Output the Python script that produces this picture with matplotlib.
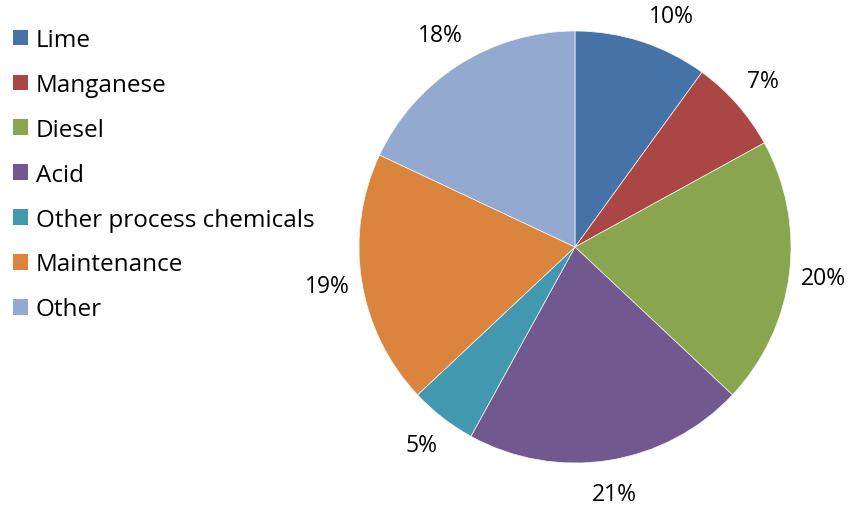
import numpy as np
import matplotlib.pyplot as plt
from matplotlib.patches import Patch

categories = ["Lime", "Manganese", "Diesel", "Acid", "Other process chemicals",
              "Maintenance", "Other"]
shares = [10, 7, 20, 21, 5, 19, 18]
colors = ["#4572A7", "#AA4643", "#89A54E", "#71588F", "#4198AF", "#DB843D", "#93A9CF"]

plt.rcParams["font.family"] = ["Open Sans", "DejaVu Sans"]

W, H = 850, 506
fig = plt.figure(figsize=(W / 100, H / 100), dpi=100)

# pie centre (575, 248) px, radius 216 px
cx, cy, r = 575, 248, 216
ax = fig.add_axes([(cx - r) / W, (H - cy - r) / H, 2 * r / W, 2 * r / H])
dist = 1.16
wedges, texts, autotexts = ax.pie(
    shares, colors=colors, startangle=90, counterclock=False,
    autopct="%d%%", pctdistance=dist,
    wedgeprops=dict(linewidth=0.5, edgecolor="#f4f4f4"),
    textprops=dict(fontsize=16.5, color="black"),
)
# keep labels inside the figure: clamp height, slide along the same radius
for t in autotexts:
    x, y = t.get_position()
    if y > 1.07:
        y = 1.07
        x = np.sign(x) * np.sqrt(dist ** 2 - y ** 2)
        t.set_position((x, y))
ax.set_xlim(-1, 1)
ax.set_ylim(-1, 1)
ax.set_aspect("equal")

handles = [Patch(facecolor=c) for c in colors]
fig.legend(handles, categories, loc="upper left", bbox_to_anchor=(0.004, 0.962),
           frameon=False, fontsize=17.5, handlelength=0.6, handleheight=0.6,
           handletextpad=0.33, labelspacing=0.86, borderaxespad=0.0)

fig.savefig("out.png", dpi=100)
